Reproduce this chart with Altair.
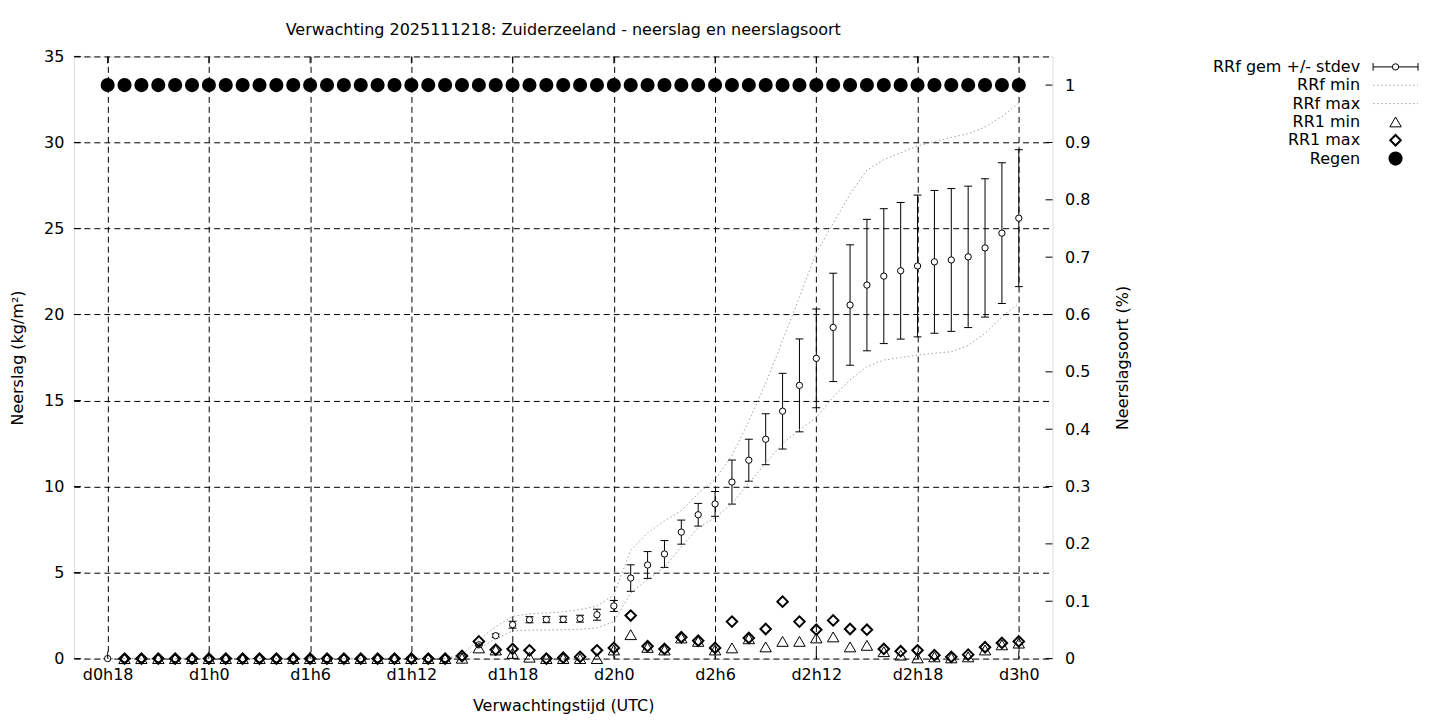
import altair as alt
import pandas as pd

F = "DejaVu Sans"
FS = 16
W, H = 980, 603

# forecast hours since d0h0
hours = list(range(18, 73))

# RRf mean (cumulative precipitation), hours 18..72
rrf_mean = [0.00, 0.00, 0.00, 0.00, 0.00, 0.00,
            0.00, 0.00, 0.00, 0.00, 0.00, 0.00,
            0.00, 0.00, 0.00, 0.00, 0.00, 0.00,
            0.00, 0.00, 0.00, 0.12, 0.80, 1.33,
            1.97, 2.26, 2.27, 2.28, 2.32, 2.55,
            3.06, 4.68, 5.44, 6.08, 7.35, 8.36,
            8.99, 10.26, 11.53, 12.75, 14.38, 15.88,
            17.45, 19.25, 20.55, 21.71, 22.23, 22.54,
            22.82, 23.06, 23.17, 23.35, 23.87, 24.73,
            25.60]

rrf_std = [0.00, 0.00, 0.00, 0.00, 0.00, 0.00,
           0.00, 0.00, 0.00, 0.00, 0.00, 0.00,
           0.00, 0.00, 0.00, 0.00, 0.00, 0.00,
           0.00, 0.00, 0.00, 0.00, 0.05, 0.10,
           0.20, 0.18, 0.18, 0.18, 0.20, 0.32,
           0.32, 0.77, 0.78, 0.78, 0.70, 0.66,
           0.72, 1.28, 1.22, 1.48, 2.20, 2.70,
           2.87, 3.15, 3.50, 3.82, 3.92, 3.97,
           4.12, 4.15, 4.15, 4.11, 4.02, 4.09,
           3.98]

rrf_min = [0.00, 0.00, 0.00, 0.00, 0.00, 0.00,
           0.00, 0.00, 0.00, 0.00, 0.00, 0.00,
           0.00, 0.00, 0.00, 0.00, 0.00, 0.00,
           0.00, 0.00, 0.00, 0.10, 0.60, 1.15,
           1.62, 1.65, 1.66, 1.68, 1.70, 1.78,
           2.15, 3.80, 4.60, 5.30, 6.50, 7.60,
           8.20, 9.00, 10.20, 11.36, 12.50, 13.30,
           14.00, 15.20, 16.20, 16.97, 17.35, 17.50,
           17.64, 17.75, 17.84, 18.20, 18.90, 19.87,
           20.64]

rrf_max = [0.00, 0.00, 0.00, 0.00, 0.00, 0.00,
           0.00, 0.00, 0.00, 0.00, 0.00, 0.00,
           0.00, 0.00, 0.00, 0.00, 0.00, 0.00,
           0.00, 0.00, 0.00, 0.25, 1.10, 1.85,
           2.45, 2.60, 2.65, 2.72, 2.85, 3.05,
           3.70, 6.30, 7.30, 8.00, 8.60, 9.60,
           10.40, 11.80, 13.80, 16.00, 18.50, 21.00,
           23.60, 25.30, 27.00, 28.40, 29.00, 29.40,
           29.80, 30.05, 30.30, 30.50, 30.90, 31.50,
           32.30]

# hourly precipitation RR1, hours 19..72
rr1_hours = list(range(19, 73))
rr1_min = [0.00, 0.00, 0.00, 0.00, 0.00, 0.00,
           0.00, 0.00, 0.00, 0.00, 0.00, 0.00,
           0.00, 0.00, 0.00, 0.00, 0.00, 0.00,
           0.00, 0.00, 0.02, 0.62, 0.50, 0.30,
           0.08, 0.00, 0.00, 0.00, 0.00, 0.50,
           1.39, 0.65, 0.50, 1.20, 1.00, 0.50,
           0.62, 1.15, 0.68, 1.00, 1.00, 1.20,
           1.26, 0.68, 0.77, 0.40, 0.20, 0.04,
           0.10, 0.04, 0.10, 0.50, 0.80, 0.90]
rr1_max = [0.00, 0.00, 0.00, 0.00, 0.00, 0.00,
           0.00, 0.00, 0.00, 0.00, 0.00, 0.00,
           0.00, 0.00, 0.00, 0.00, 0.00, 0.00,
           0.00, 0.00, 0.15, 1.00, 0.52, 0.56,
           0.48, 0.00, 0.05, 0.10, 0.48, 0.62,
           2.50, 0.72, 0.56, 1.24, 1.04, 0.62,
           2.15, 1.20, 1.72, 3.31, 2.15, 1.68,
           2.22, 1.72, 1.68, 0.56, 0.43, 0.48,
           0.20, 0.10, 0.23, 0.66, 0.91, 1.00]

# precipitation type fraction (Regen), hours 18..72
regen = [1, 1, 1, 1, 1, 1, 1, 1, 1, 1, 1,
         1, 1, 1, 1, 1, 1, 1, 1, 1, 1, 1,
         1, 1, 1, 1, 1, 1, 1, 1, 1, 1, 1,
         1, 1, 1, 1, 1, 1, 1, 1, 1, 1, 1,
         1, 1, 1, 1, 1, 1, 1, 1, 1, 1, 1]

x_tick_values = [18, 24, 30, 36, 42, 48, 54, 60, 66, 72]
x_tick_labels = ["d0h18", "d1h0", "d1h6", "d1h12", "d1h18",
                 "d2h0", "d2h6", "d2h12", "d2h18", "d3h0"]
y_tick_values = [0, 5, 10, 15, 20, 25, 30, 35]
y2_tick_values = [0, 0.1, 0.2, 0.3, 0.4, 0.5, 0.6, 0.7, 0.8, 0.9, 1.0]
legend_labels = ["RRf gem +/- stdev", "RRf min", "RRf max",
                 "RR1 min", "RR1 max", "Regen"]

title_text = "Verwachting 2025111218: Zuiderzeeland - neerslag en neerslagsoort"

df = pd.DataFrame({"h": hours, "mean": rrf_mean, "std": rrf_std,
                   "min": rrf_min, "max": rrf_max, "regen": regen})
df["lo"] = df["mean"] - df["std"]
df["hi"] = df["mean"] + df["std"]
df1 = pd.DataFrame({"h": rr1_hours, "rmin": rr1_min, "rmax": rr1_max})
leg_df = pd.DataFrame({"row": list(range(len(legend_labels))), "label": legend_labels})

label_expr = ("[" + ",".join("'%s'" % s for s in x_tick_labels) + "][indexof(["
              + ",".join(str(v) for v in x_tick_values) + "], datum.value)]")

GD = [6, 4]
common = dict(labelFont=F, labelFontSize=FS, labelColor="black",
              titleFont=F, titleFontSize=FS, titleFontWeight="normal",
              titleColor="black", domain=False, ticks=False)

x_axis = alt.Axis(values=x_tick_values, labelExpr=label_expr, grid=True,
                  gridColor="black", gridDash=GD, gridWidth=1, gridOpacity=1,
                  labelPadding=8, labelFlush=False, labelOverlap=False,
                  title="Verwachtingstijd (UTC)", titleY=47, titleBaseline="middle",
                  **common)
y_axis = alt.Axis(values=y_tick_values, grid=True, gridColor="black", gridDash=GD,
                  gridWidth=1, gridOpacity=1, labelPadding=10, labelOverlap=False,
                  title="Neerslag (kg/m²)", titleX=-56, titleY=H / 2, titleAngle=270,
                  titleBaseline="middle", titleAlign="center", orient="left", **common)
y2_axis = alt.Axis(values=y2_tick_values, format="~g", grid=False, labelPadding=12,
                   labelOverlap=False, title="Neerslagsoort (%)", titleX=70,
                   titleY=H / 2, titleAngle=270, titleBaseline="middle",
                   titleAlign="center", orient="right", **common)

xscale = alt.Scale(domain=[16, 74], nice=False, zero=False)
yscale = alt.Scale(domain=[0, 35], nice=False, zero=False)
y2scale = alt.Scale(domain=[0, 1.05], nice=False, zero=False)


def X(f):
    return alt.X(f + ":Q", scale=xscale, axis=x_axis)


def YL(f):
    return alt.Y(f + ":Q", scale=yscale, axis=y_axis)


def YR(f):
    return alt.Y(f + ":Q", scale=y2scale, axis=y2_axis)


base = alt.Chart(df)
err_rule = base.mark_rule(color="black", strokeWidth=1).encode(x=X("h"), y=YL("lo"), y2="hi")
cap_lo = base.mark_tick(orient="horizontal", size=8, thickness=1, color="black",
                        opacity=1).encode(x=X("h"), y=YL("lo"))
cap_hi = base.mark_tick(orient="horizontal", size=8, thickness=1, color="black",
                        opacity=1).encode(x=X("h"), y=YL("hi"))
mean_pt = base.mark_point(shape="circle", size=40, filled=True, fill="white",
                          stroke="black", strokeWidth=1, opacity=1).encode(
    x=X("h"), y=YL("mean"))
min_line = base.mark_line(color="#a0a0a0", strokeWidth=1, strokeDash=[1.5, 2.5]).encode(
    x=X("h"), y=YL("min"))
max_line = base.mark_line(color="#a0a0a0", strokeWidth=1, strokeDash=[1.5, 2.5]).encode(
    x=X("h"), y=YL("max"))
tri = alt.Chart(df1).mark_point(shape="triangle-up", size=130, filled=False,
                                stroke="black", strokeWidth=1, opacity=1).encode(
    x=X("h"), y=YL("rmin"))
dia = alt.Chart(df1).mark_point(shape="diamond", size=110, filled=False,
                                stroke="black", strokeWidth=2, opacity=1).encode(
    x=X("h"), y=YL("rmax"))

xt = alt.Chart(pd.DataFrame({"t": x_tick_values}))
xtick_bot = xt.mark_rule(color="black", strokeWidth=1).encode(
    x=X("t"), y=alt.value(H), y2=alt.value(H - 7))
xtick_top = xt.mark_rule(color="black", strokeWidth=1).encode(
    x=X("t"), y=alt.value(0), y2=alt.value(7))
ytick_left = alt.Chart(pd.DataFrame({"t": y_tick_values})).mark_rule(
    color="black", strokeWidth=1).encode(y=YL("t"), x=alt.value(0), x2=alt.value(7))

left = alt.layer(err_rule, cap_lo, cap_hi, mean_pt, min_line, max_line, tri, dia,
                 xtick_bot, xtick_top, ytick_left)

regen_pts = base.mark_point(shape="circle", size=200, filled=True, color="black",
                            opacity=1).encode(x=X("h"), y=YR("regen"))
y2ticks = alt.Chart(pd.DataFrame({"t": y2_tick_values})).mark_rule(
    color="black", strokeWidth=1).encode(y=YR("t"), x=alt.value(W - 7), x2=alt.value(W))
right = alt.layer(y2ticks, regen_pts)

# legend (gnuplot-style key, outside to the right)
LX_TEXT = 1288
LX_SYM = 1323.5
LY = alt.Y("row:Q", scale=alt.Scale(domain=[0, 5], range=[10.5, 102.3]), axis=None)
lb = alt.Chart(leg_df)
leg_text = lb.mark_text(align="right", baseline="middle", font=F, fontSize=FS,
                        color="black").encode(x=alt.value(LX_TEXT), y=LY, text="label:N")
leg_err = lb.transform_filter("datum.row == 0").mark_point(
    shape="M-1,0L1,0M-1,-0.17L-1,0.17M1,-0.17L1,0.17", size=2025, filled=False,
    stroke="black", strokeWidth=1, opacity=1).encode(x=alt.value(LX_SYM), y=LY)
leg_errc = lb.transform_filter("datum.row == 0").mark_point(
    shape="circle", size=40, filled=True, fill="white", stroke="black",
    strokeWidth=1, opacity=1).encode(x=alt.value(LX_SYM), y=LY)
leg_lines = lb.transform_filter("datum.row == 1 || datum.row == 2").mark_rule(
    color="#a0a0a0", strokeWidth=1, strokeDash=[1.5, 2.5]).encode(
    x=alt.value(LX_SYM - 22.5), x2=alt.value(LX_SYM + 22.5), y=LY)
leg_tri = lb.transform_filter("datum.row == 3").mark_point(
    shape="triangle-up", size=130, filled=False, stroke="black", strokeWidth=1,
    opacity=1).encode(x=alt.value(LX_SYM), y=LY)
leg_dia = lb.transform_filter("datum.row == 4").mark_point(
    shape="diamond", size=110, filled=False, stroke="black", strokeWidth=2,
    opacity=1).encode(x=alt.value(LX_SYM), y=LY)
leg_dot = lb.transform_filter("datum.row == 5").mark_point(
    shape="circle", size=200, filled=True, color="black", opacity=1).encode(
    x=alt.value(LX_SYM), y=LY)
legend = alt.layer(leg_text, leg_err, leg_errc, leg_lines, leg_tri, leg_dia, leg_dot)

chart = alt.layer(left, right, legend).resolve_scale(y="independent").properties(
    width=W, height=H,
    title=alt.TitleParams(text=title_text, font=F, fontSize=FS, fontWeight="normal",
                          color="black", anchor="middle", offset=10),
    autosize=alt.AutoSizeParams(type="none"),
    padding={"left": 66, "top": 48, "right": 380, "bottom": 60},
).configure_view(stroke="black", strokeWidth=1).configure(font=F)

chart.save("out.html", embed_options={"renderer": "svg", "actions": False})
